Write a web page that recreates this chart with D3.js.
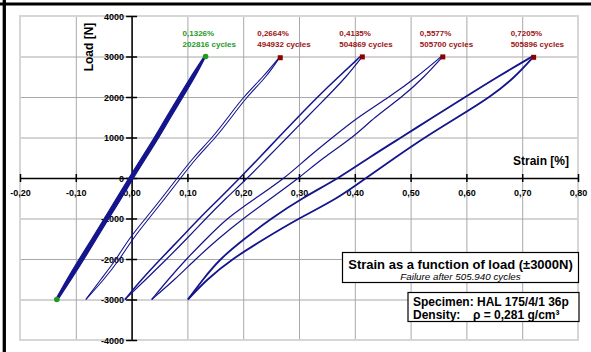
<!DOCTYPE html>
<html>
<head>
<meta charset="utf-8">
<script src="https://cdn.jsdelivr.net/npm/d3@7"></script>
<style>
  body { margin: 0; background: #fff; }
  svg { display: block; font-family: "Liberation Sans", Arial, sans-serif; }
</style>
</head>
<body>
<svg id="chart" width="591" height="352"></svg>
<script>

  // data
  const loadLevels = [-3000, -2500, -2000, -1500, -1000, -500, 0, 500, 1000, 1500, 2000, 2500, 3000];

  // strain [%] of the left and right branch of each loop, at each load level
  const loop1Left  = [-0.136, -0.116, -0.094, -0.071, -0.049, -0.027, -0.005, 0.018, 0.041, 0.062, 0.084, 0.106, 0.130];
  const loop1Right = [-0.132, -0.108, -0.085, -0.063, -0.041, -0.018, 0.003, 0.026, 0.049, 0.070, 0.092, 0.114, 0.1326];
  const loop2Left  = [-0.082, -0.055, -0.027, -0.005, 0.025, 0.054, 0.082, 0.110, 0.145, 0.173, 0.200, 0.236, 0.266];
  const loop2Right = [-0.082, -0.049, -0.021, 0.002, 0.031, 0.060, 0.088, 0.116, 0.151, 0.179, 0.206, 0.242, 0.2664];
  const loop3Left  = [-0.012, 0.018, 0.052, 0.087, 0.121, 0.158, 0.194, 0.229, 0.263, 0.298, 0.333, 0.371, 0.410];
  const loop3Right = [-0.012, 0.026, 0.063, 0.099, 0.133, 0.169, 0.208, 0.243, 0.279, 0.314, 0.350, 0.385, 0.4135];
  const loop4Left  = [0.036, 0.066, 0.098, 0.134, 0.170, 0.222, 0.275, 0.315, 0.360, 0.405, 0.462, 0.512, 0.555];
  const loop4Right = [0.036, 0.078, 0.115, 0.155, 0.200, 0.250, 0.300, 0.343, 0.397, 0.435, 0.485, 0.525, 0.5577];
  const loop5Left  = [0.101, 0.128, 0.158, 0.202, 0.250, 0.305, 0.372, 0.425, 0.483, 0.540, 0.598, 0.656, 0.718];
  const loop5Right = [0.101, 0.135, 0.180, 0.238, 0.299, 0.370, 0.420, 0.472, 0.525, 0.584, 0.643, 0.688, 0.7205];

  const peakStrain = [0.1326, 0.2664, 0.4135, 0.5577, 0.7205];
  const peakLoad   = [3000, 2970, 2990, 2990, 2980];
  const peakCycles = ["202816", "494932", "504869", "505700", "505896"];
  const valleyStrain = [-0.134];
  const valleyLoad   = [-3000];

  const xTicks = [-0.2, -0.1, 0, 0.1, 0.2, 0.3, 0.4, 0.5, 0.6, 0.7, 0.8];
  const yTicks = [-4000, -3000, -2000, -1000, 0, 1000, 2000, 3000, 4000];

  // layout
  let plot = { left: 20, right: 578, top: 16, bottom: 340 };
  let lineColor = "#14148c";
  let greenColor = "#1f9a1f";
  let redColor = "#9b1414";

  let locale = d3.formatLocale({ decimal: ",", thousands: ".", grouping: [3], currency: ["", ""], minus: "-" });
  let fmtX = locale.format(".2f");
  let fmtY = locale.format("d");
  let fmtPeak = locale.format(".4f");

  let svg = d3.select("#chart");

  let x = d3.scaleLinear().domain([-0.2, 0.8]).range([plot.left, plot.right]);
  let y = d3.scaleLinear().domain([-4000, 4000]).range([plot.bottom, plot.top]);

  svg.append("rect")
     .attr("width", 591)
     .attr("height", 352)
     .attr("fill", "#fff");

  // grid
  let gridX = svg.append("g")
                 .attr("transform", "translate(0," + plot.bottom + ")")
                 .call(d3.axisBottom(x).tickValues(xTicks).tickSize(-(plot.bottom - plot.top)).tickFormat(""));
  let gridY = svg.append("g")
                 .attr("transform", "translate(" + plot.left + ",0)")
                 .call(d3.axisLeft(y).tickValues(yTicks).tickSize(-(plot.right - plot.left)).tickFormat(""));
  [gridX, gridY].forEach(function(g) {
    g.select(".domain").remove();
    g.selectAll(".tick line").attr("stroke", "#a8a8a8").attr("stroke-width", 1);
  });

  svg.append("rect")
     .attr("x", plot.left)
     .attr("y", plot.top)
     .attr("width", plot.right - plot.left)
     .attr("height", plot.bottom - plot.top)
     .attr("fill", "none")
     .attr("stroke", "#d6d6d6")
     .attr("stroke-width", 2);

  // axes through the origin
  let xAxis = svg.append("g")
                 .attr("transform", "translate(0," + y(0) + ")")
                 .call(d3.axisBottom(x).tickValues(xTicks).tickFormat(fmtX).tickSizeOuter(0).tickSizeInner(4));
  let yAxis = svg.append("g")
                 .attr("transform", "translate(" + x(0) + ",0)")
                 .call(d3.axisLeft(y).tickValues(yTicks).tickFormat(fmtY).tickSizeOuter(0).tickSizeInner(5));

  [xAxis, yAxis].forEach(function(g) {
    g.attr("font-family", "'Liberation Sans', Arial, sans-serif")
     .attr("font-size", 9)
     .attr("font-weight", "bold");
    g.select(".domain").attr("stroke", "#000").attr("stroke-width", 1.5);
    g.selectAll(".tick line").attr("stroke", "#000").attr("stroke-width", 1.5);
    g.selectAll(".tick text").attr("fill", "#000");
  });
  xAxis.selectAll(".tick line").attr("y1", -4).attr("y2", 4);
  xAxis.selectAll(".tick text").attr("y", 18).attr("dy", 0);
  yAxis.selectAll(".tick line").attr("x1", -5.5).attr("x2", 5.5);
  yAxis.selectAll(".tick text").attr("x", -7.5).attr("dy", "0.34em");

  svg.append("text")
     .attr("transform", "translate(" + 93 + "," + 47 + ") rotate(-90)")
     .attr("text-anchor", "middle")
     .attr("font-size", 12)
     .attr("font-weight", "bold")
     .text("Load [N]");

  svg.append("text")
     .attr("x", 569)
     .attr("y", 165)
     .attr("text-anchor", "end")
     .attr("font-size", 12)
     .attr("font-weight", "bold")
     .text("Strain [%]");

  // hysteresis loops
  let branch = function(strains) {
    return d3.zip(strains, loadLevels);
  };

  let line = d3.line()
               .x(function(d) { return x(d[0]); })
               .y(function(d) { return y(d[1]); })
               .curve(d3.curveBasis);

  // first loop is a dense band of many cycles
  let band = d3.area()
               .y(function(d) { return y(d.load); })
               .x0(function(d) { return x(d.left); })
               .x1(function(d) { return x(d.right); })
               .curve(d3.curveBasis);

  let bandData = loadLevels.map(function(l, i) {
    return { load: l, left: loop1Left[i], right: loop1Right[i] };
  });

  let loops = svg.append("g").attr("class", "loops");

  loops.append("path")
       .attr("d", band(bandData))
       .attr("fill", lineColor)
       .attr("stroke", lineColor)
       .attr("stroke-width", 1.2);

  let branches = [
    { pts: branch(loop2Left), w: 1.1 },
    { pts: branch(loop2Right), w: 1.1 },
    { pts: branch(loop3Left), w: 1.5 },
    { pts: branch(loop3Right), w: 1.2 },
    { pts: branch(loop4Left), w: 1.2 },
    { pts: branch(loop4Right), w: 1.2 },
    { pts: branch(loop5Left), w: 1.8 },
    { pts: branch(loop5Right), w: 1.8 }
  ];

  loops.selectAll("path.branch")
       .data(branches)
       .enter()
       .append("path")
       .attr("class", "branch")
       .attr("d", function(d) { return line(d.pts); })
       .attr("fill", "none")
       .attr("stroke", lineColor)
       .attr("stroke-width", function(d) { return d.w; });

  // end markers
  let markers = svg.append("g").attr("class", "markers");

  markers.selectAll("circle")
         .data([[peakStrain[0], peakLoad[0]], [valleyStrain[0], valleyLoad[0]]])
         .enter()
         .append("circle")
         .attr("cx", function(d) { return x(d[0]); })
         .attr("cy", function(d) { return y(d[1]); })
         .attr("r", 2.8)
         .attr("fill", greenColor);

  markers.selectAll("rect")
         .data(d3.zip(peakStrain, peakLoad).slice(1))
         .enter()
         .append("rect")
         .attr("x", function(d) { return x(d[0]) - 2.5; })
         .attr("y", function(d) { return y(d[1]) - 2.5; })
         .attr("width", 5)
         .attr("height", 5)
         .attr("fill", "#8b0000");

  // peak labels
  let labels = svg.append("g")
                  .attr("class", "peak-labels")
                  .attr("font-size", 8)
                  .attr("font-weight", "bold");

  let label = labels.selectAll("g")
                    .data(d3.zip(peakStrain, peakCycles))
                    .enter()
                    .append("g")
                    .attr("transform", function(d) { return "translate(" + (x(d[0]) - 23) + ",0)"; })
                    .attr("fill", function(d, i) { return i == 0 ? greenColor : redColor; });
  label.append("text")
       .attr("y", 35.5)
       .text(function(d) { return fmtPeak(d[0]) + "%"; });
  label.append("text")
       .attr("y", 47)
       .text(function(d) { return d[1] + " cycles"; });

  // title boxes
  let box1 = svg.append("g");
  box1.append("rect")
      .attr("x", 342.5)
      .attr("y", 252.5)
      .attr("width", 236)
      .attr("height", 30)
      .attr("fill", "#fff")
      .attr("stroke", "#000")
      .attr("stroke-width", 1.2);
  box1.append("text")
      .attr("x", 460.5)
      .attr("y", 268.5)
      .attr("text-anchor", "middle")
      .attr("font-size", 13)
      .attr("font-weight", "bold")
      .text("Strain as a function of load (\u00b13000N)");
  box1.append("text")
      .attr("x", 460.5)
      .attr("y", 279.5)
      .attr("text-anchor", "middle")
      .attr("font-size", 9.8)
      .attr("font-style", "italic")
      .text("Failure after 505.940 cycles");

  let box2 = svg.append("g").attr("font-size", 12).attr("font-weight", "bold");
  box2.append("rect")
      .attr("x", 408)
      .attr("y", 292.5)
      .attr("width", 171)
      .attr("height", 29)
      .attr("fill", "#fff")
      .attr("stroke", "#000")
      .attr("stroke-width", 1.2);
  box2.append("text")
      .attr("x", 413)
      .attr("y", 305.5)
      .text("Specimen: HAL 175/4/1 36p");
  box2.append("text")
      .attr("x", 413)
      .attr("y", 319)
      .text("Density:");
  box2.append("text")
      .attr("x", 473)
      .attr("y", 319)
      .text("\u03c1 = 0,281 g/cm\u00b3");

  // outer frame (top and left edges visible)
  svg.append("line")
     .attr("x1", 0).attr("x2", 591)
     .attr("y1", 4).attr("y2", 4)
     .attr("stroke", "#000")
     .attr("stroke-width", 3);
  svg.append("line")
     .attr("x1", 4.3).attr("x2", 4.3)
     .attr("y1", 0).attr("y2", 352)
     .attr("stroke", "#000")
     .attr("stroke-width", 3.3);

</script>
</body>
</html>
